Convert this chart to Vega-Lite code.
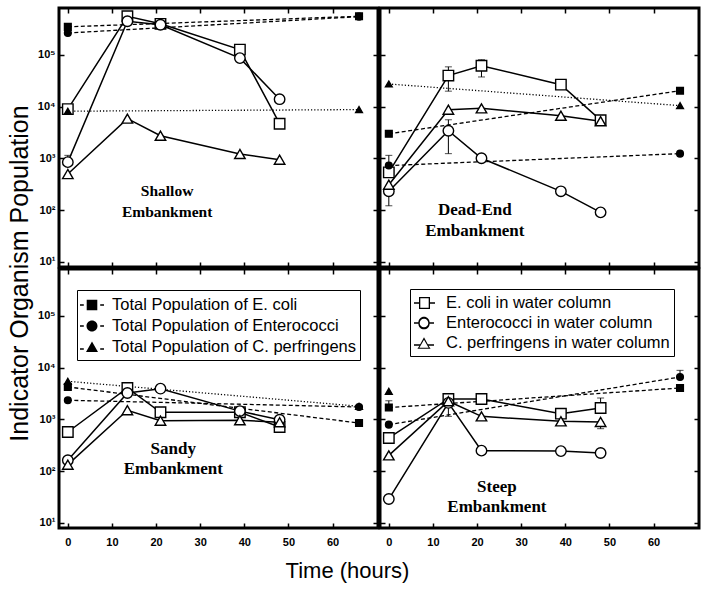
{
  "$schema": "https://vega.github.io/schema/vega-lite/v6.json",
  "background": "white",
  "padding": {"left": 5, "top": 5, "right": 5, "bottom": 5},
  "datasets": {
    "d": [
      {"panel": "Shallow", "organism": "E. coli", "kind": "water", "t": 0, "v": 9000},
      {"panel": "Shallow", "organism": "E. coli", "kind": "water", "t": 13.5, "v": 560000},
      {"panel": "Shallow", "organism": "E. coli", "kind": "water", "t": 21, "v": 400000},
      {"panel": "Shallow", "organism": "E. coli", "kind": "water", "t": 39, "v": 127000},
      {"panel": "Shallow", "organism": "E. coli", "kind": "water", "t": 48, "v": 4700},
      {"panel": "Shallow", "organism": "Enterococci", "kind": "water", "t": 0, "v": 850, "lo": 850, "hi": 1150},
      {"panel": "Shallow", "organism": "Enterococci", "kind": "water", "t": 13.5, "v": 450000},
      {"panel": "Shallow", "organism": "Enterococci", "kind": "water", "t": 21, "v": 385000},
      {"panel": "Shallow", "organism": "Enterococci", "kind": "water", "t": 39, "v": 87000},
      {"panel": "Shallow", "organism": "Enterococci", "kind": "water", "t": 48, "v": 14000},
      {"panel": "Shallow", "organism": "C. perfringens", "kind": "water", "t": 0, "v": 500},
      {"panel": "Shallow", "organism": "C. perfringens", "kind": "water", "t": 13.5, "v": 5900},
      {"panel": "Shallow", "organism": "C. perfringens", "kind": "water", "t": 21, "v": 2750},
      {"panel": "Shallow", "organism": "C. perfringens", "kind": "water", "t": 39, "v": 1220},
      {"panel": "Shallow", "organism": "C. perfringens", "kind": "water", "t": 48, "v": 950},
      {"panel": "Shallow", "organism": "E. coli", "kind": "total", "t": 0, "v": 350000},
      {"panel": "Shallow", "organism": "E. coli", "kind": "total", "t": 66, "v": 560000},
      {"panel": "Shallow", "organism": "Enterococci", "kind": "total", "t": 0, "v": 266000},
      {"panel": "Shallow", "organism": "Enterococci", "kind": "total", "t": 66, "v": 550000},
      {"panel": "Shallow", "organism": "C. perfringens", "kind": "total", "t": 0, "v": 8200},
      {"panel": "Shallow", "organism": "C. perfringens", "kind": "total", "t": 66, "v": 8800},

      {"panel": "Dead-End", "organism": "E. coli", "kind": "water", "t": 0, "v": 540, "lo": 540, "hi": 1150},
      {"panel": "Dead-End", "organism": "E. coli", "kind": "water", "t": 13.5, "v": 40000, "lo": 20000, "hi": 59000},
      {"panel": "Dead-End", "organism": "E. coli", "kind": "water", "t": 21, "v": 62000, "lo": 37600, "hi": 81000},
      {"panel": "Dead-End", "organism": "E. coli", "kind": "water", "t": 39, "v": 26700},
      {"panel": "Dead-End", "organism": "E. coli", "kind": "water", "t": 48, "v": 5500},
      {"panel": "Dead-End", "organism": "Enterococci", "kind": "water", "t": 0, "v": 232, "lo": 122, "hi": 232},
      {"panel": "Dead-End", "organism": "Enterococci", "kind": "water", "t": 13.5, "v": 3440, "lo": 1240, "hi": 5600},
      {"panel": "Dead-End", "organism": "Enterococci", "kind": "water", "t": 21, "v": 1010},
      {"panel": "Dead-End", "organism": "Enterococci", "kind": "water", "t": 39, "v": 232},
      {"panel": "Dead-End", "organism": "Enterococci", "kind": "water", "t": 48, "v": 91},
      {"panel": "Dead-End", "organism": "C. perfringens", "kind": "water", "t": 0, "v": 312},
      {"panel": "Dead-End", "organism": "C. perfringens", "kind": "water", "t": 13.5, "v": 8770},
      {"panel": "Dead-End", "organism": "C. perfringens", "kind": "water", "t": 21, "v": 9300},
      {"panel": "Dead-End", "organism": "C. perfringens", "kind": "water", "t": 39, "v": 6700},
      {"panel": "Dead-End", "organism": "C. perfringens", "kind": "water", "t": 48, "v": 5240},
      {"panel": "Dead-End", "organism": "E. coli", "kind": "total", "t": 0, "v": 3000},
      {"panel": "Dead-End", "organism": "E. coli", "kind": "total", "t": 66, "v": 20400},
      {"panel": "Dead-End", "organism": "Enterococci", "kind": "total", "t": 0, "v": 730},
      {"panel": "Dead-End", "organism": "Enterococci", "kind": "total", "t": 66, "v": 1240},
      {"panel": "Dead-End", "organism": "C. perfringens", "kind": "total", "t": 0, "v": 27500},
      {"panel": "Dead-End", "organism": "C. perfringens", "kind": "total", "t": 66, "v": 10500},

      {"panel": "Sandy", "organism": "E. coli", "kind": "water", "t": 0, "v": 573},
      {"panel": "Sandy", "organism": "E. coli", "kind": "water", "t": 13.5, "v": 4060},
      {"panel": "Sandy", "organism": "E. coli", "kind": "water", "t": 21, "v": 1380},
      {"panel": "Sandy", "organism": "E. coli", "kind": "water", "t": 39, "v": 1380},
      {"panel": "Sandy", "organism": "E. coli", "kind": "water", "t": 48, "v": 716},
      {"panel": "Sandy", "organism": "Enterococci", "kind": "water", "t": 0, "v": 163},
      {"panel": "Sandy", "organism": "Enterococci", "kind": "water", "t": 13.5, "v": 3250},
      {"panel": "Sandy", "organism": "Enterococci", "kind": "water", "t": 21, "v": 3940},
      {"panel": "Sandy", "organism": "Enterococci", "kind": "water", "t": 39, "v": 1450},
      {"panel": "Sandy", "organism": "Enterococci", "kind": "water", "t": 48, "v": 990},
      {"panel": "Sandy", "organism": "C. perfringens", "kind": "water", "t": 0, "v": 134},
      {"panel": "Sandy", "organism": "C. perfringens", "kind": "water", "t": 13.5, "v": 1510},
      {"panel": "Sandy", "organism": "C. perfringens", "kind": "water", "t": 21, "v": 950},
      {"panel": "Sandy", "organism": "C. perfringens", "kind": "water", "t": 39, "v": 966},
      {"panel": "Sandy", "organism": "C. perfringens", "kind": "water", "t": 48, "v": 883},
      {"panel": "Sandy", "organism": "E. coli", "kind": "total", "t": 0, "v": 4250},
      {"panel": "Sandy", "organism": "E. coli", "kind": "total", "t": 66, "v": 855},
      {"panel": "Sandy", "organism": "Enterococci", "kind": "total", "t": 0, "v": 2350},
      {"panel": "Sandy", "organism": "Enterococci", "kind": "total", "t": 66, "v": 1745},
      {"panel": "Sandy", "organism": "C. perfringens", "kind": "total", "t": 0, "v": 5470},
      {"panel": "Sandy", "organism": "C. perfringens", "kind": "total", "t": 66, "v": 1800},

      {"panel": "Steep", "organism": "E. coli", "kind": "water", "t": 0, "v": 440},
      {"panel": "Steep", "organism": "E. coli", "kind": "water", "t": 13.5, "v": 2490},
      {"panel": "Steep", "organism": "E. coli", "kind": "water", "t": 21, "v": 2490},
      {"panel": "Steep", "organism": "E. coli", "kind": "water", "t": 39, "v": 1295},
      {"panel": "Steep", "organism": "E. coli", "kind": "water", "t": 48, "v": 1667, "lo": 1667, "hi": 2600},
      {"panel": "Steep", "organism": "Enterococci", "kind": "water", "t": 0, "v": 29},
      {"panel": "Steep", "organism": "Enterococci", "kind": "water", "t": 13.5, "v": 2090},
      {"panel": "Steep", "organism": "Enterococci", "kind": "water", "t": 21, "v": 250},
      {"panel": "Steep", "organism": "Enterococci", "kind": "water", "t": 39, "v": 245},
      {"panel": "Steep", "organism": "Enterococci", "kind": "water", "t": 48, "v": 225},
      {"panel": "Steep", "organism": "C. perfringens", "kind": "water", "t": 0, "v": 203},
      {"panel": "Steep", "organism": "C. perfringens", "kind": "water", "t": 13.5, "v": 2250, "lo": 1150, "hi": 2700},
      {"panel": "Steep", "organism": "C. perfringens", "kind": "water", "t": 21, "v": 1150},
      {"panel": "Steep", "organism": "C. perfringens", "kind": "water", "t": 39, "v": 922},
      {"panel": "Steep", "organism": "C. perfringens", "kind": "water", "t": 48, "v": 896, "lo": 664, "hi": 896},
      {"panel": "Steep", "organism": "E. coli", "kind": "total", "t": 0, "v": 1700, "lo": 1700, "hi": 2300},
      {"panel": "Steep", "organism": "E. coli", "kind": "total", "t": 66, "v": 4060},
      {"panel": "Steep", "organism": "Enterococci", "kind": "total", "t": 0, "v": 795},
      {"panel": "Steep", "organism": "Enterococci", "kind": "total", "t": 66, "v": 6620, "lo": 6620, "hi": 8900},
      {"panel": "Steep", "organism": "C. perfringens", "kind": "total", "t": 0, "v": 3500}
    ]
  },
  "columns": 2,
  "spacing": 2,
  "bounds": "flush",
  "resolve": {"scale": {"shape": "independent"}, "legend": {"shape": "independent"}},
  "concat": [
    {
      "width": 319, "height": 259,
      "data": {"name": "d"},
      "transform": [{"filter": "datum.panel == 'Shallow'"}],
      "resolve": {"axis": {"x": "independent", "y": "independent"}},
      "layer": [
        {"transform": [{"filter": "datum.kind == 'water'"}],
         "mark": {"type": "line", "color": "black", "strokeWidth": 1.5},
         "encoding": {
           "x": {"field": "t", "type": "quantitative", "scale": {"domain": [-2, 70.3], "nice": false, "zero": false}, "axis": {"orient": "bottom", "values": [0,10,20,30,40,50,60], "labels": false, "title": null}},
           "y": {"field": "v", "type": "quantitative", "scale": {"type": "log", "domain": [8, 809000], "nice": false}, "axis": {"orient": "left", "values": [10,100,1000,10000,100000], "labelPadding": 9, "labelExpr": "datum.value == 10 ? '10¹' : datum.value == 100 ? '10²' : datum.value == 1000 ? '10³' : datum.value == 10000 ? '10⁴' : '10⁵'", "title": "Indicator Organism Population", "titleY": 265, "titleFontSize": 25, "titlePadding": 5}},
           "detail": {"field": "organism"}}},
        {"transform": [{"filter": "datum.kind == 'total'"}],
         "mark": {"type": "line", "color": "black", "strokeWidth": 1.3},
         "encoding": {
           "x": {"field": "t", "type": "quantitative", "axis": {"orient": "top", "values": [0,10,20,30,40,50,60], "labels": false, "title": null}},
           "y": {"field": "v", "type": "quantitative", "axis": {"orient": "right", "values": [10,100,1000,10000,100000], "labels": false, "title": null}},
           "strokeDash": {"field": "organism", "type": "nominal", "scale": {"domain": ["E. coli", "Enterococci", "C. perfringens"], "range": [[4, 2.5], [4, 2.5], [1.2, 2]]}, "legend": null}}},
        {"transform": [{"filter": "isValid(datum.hi)"}],
         "mark": {"type": "rule", "color": "black", "strokeWidth": 1},
         "encoding": {"x": {"field": "t", "type": "quantitative", "axis": null}, "y": {"field": "lo", "type": "quantitative", "axis": null}, "y2": {"field": "hi"}}},
        {"transform": [{"filter": "isValid(datum.hi)"}],
         "mark": {"type": "tick", "orient": "horizontal", "color": "black", "size": 7, "thickness": 1},
         "encoding": {"x": {"field": "t", "type": "quantitative", "axis": null}, "y": {"field": "hi", "type": "quantitative", "axis": null}}},
        {"transform": [{"filter": "datum.organism == 'E. coli'"}],
         "mark": {"type": "point", "shape": "square", "filled": true, "stroke": "black", "strokeWidth": 1.4, "opacity": 1},
         "encoding": {"x": {"field": "t", "type": "quantitative", "axis": null}, "y": {"field": "v", "type": "quantitative", "axis": null},
           "fill": {"field": "kind", "type": "nominal", "scale": {"domain": ["water", "total"], "range": ["white", "black"]}, "legend": null},
           "size": {"field": "kind", "type": "ordinal", "scale": {"domain": ["water", "total"], "range": [110, 45]}, "legend": null}}},
        {"transform": [{"filter": "datum.organism == 'Enterococci'"}],
         "mark": {"type": "point", "shape": "circle", "filled": true, "stroke": "black", "strokeWidth": 1.4, "opacity": 1},
         "encoding": {"x": {"field": "t", "type": "quantitative", "axis": null}, "y": {"field": "v", "type": "quantitative", "axis": null},
           "fill": {"field": "kind", "type": "nominal", "scale": {"domain": ["water", "total"], "range": ["white", "black"]}, "legend": null},
           "size": {"field": "kind", "type": "ordinal", "scale": {"domain": ["water", "total"], "range": [110, 45]}, "legend": null}}},
        {"transform": [{"filter": "datum.organism == 'C. perfringens'"}],
         "mark": {"type": "point", "shape": "triangle-up", "filled": true, "stroke": "black", "strokeWidth": 1.4, "opacity": 1},
         "encoding": {"x": {"field": "t", "type": "quantitative", "axis": null}, "y": {"field": "v", "type": "quantitative", "axis": null},
           "fill": {"field": "kind", "type": "nominal", "scale": {"domain": ["water", "total"], "range": ["white", "black"]}, "legend": null},
           "size": {"field": "kind", "type": "ordinal", "scale": {"domain": ["water", "total"], "range": [120, 50]}, "legend": null}}},
        {"data": {"values": [{"label": "Shallow Embankment"}]},
         "mark": {"type": "text", "font": "Liberation Serif", "fontWeight": "bold", "fontSize": 15.5, "lineHeight": 21, "lineBreak": " ", "align": "center", "baseline": "middle", "color": "black"},
         "encoding": {"text": {"field": "label"}, "x": {"datum": 22.5, "type": "quantitative", "axis": null}, "y": {"datum": 235, "type": "quantitative", "axis": null}}}
      ]
    },
    {
      "width": 319, "height": 259,
      "data": {"name": "d"},
      "transform": [{"filter": "datum.panel == 'Dead-End'"}],
      "resolve": {"axis": {"x": "independent", "y": "independent"}},
      "layer": [
        {"transform": [{"filter": "datum.kind == 'water'"}],
         "mark": {"type": "line", "color": "black", "strokeWidth": 1.5},
         "encoding": {
           "x": {"field": "t", "type": "quantitative", "scale": {"domain": [-2, 70.3], "nice": false, "zero": false}, "axis": {"orient": "bottom", "values": [0,10,20,30,40,50,60], "labels": false, "title": null}},
           "y": {"field": "v", "type": "quantitative", "scale": {"type": "log", "domain": [8, 809000], "nice": false}, "axis": {"orient": "left", "values": [10,100,1000,10000,100000], "labels": false, "title": null}},
           "detail": {"field": "organism"}}},
        {"transform": [{"filter": "datum.kind == 'total'"}],
         "mark": {"type": "line", "color": "black", "strokeWidth": 1.3},
         "encoding": {
           "x": {"field": "t", "type": "quantitative", "axis": {"orient": "top", "values": [0,10,20,30,40,50,60], "labels": false, "title": null}},
           "y": {"field": "v", "type": "quantitative", "axis": {"orient": "right", "values": [10,100,1000,10000,100000], "labels": false, "title": null}},
           "strokeDash": {"field": "organism", "type": "nominal", "scale": {"domain": ["E. coli", "Enterococci", "C. perfringens"], "range": [[4, 2.5], [4, 2.5], [1.2, 2]]}, "legend": null}}},
        {"transform": [{"filter": "isValid(datum.hi)"}],
         "mark": {"type": "rule", "color": "black", "strokeWidth": 1},
         "encoding": {"x": {"field": "t", "type": "quantitative", "axis": null}, "y": {"field": "lo", "type": "quantitative", "axis": null}, "y2": {"field": "hi"}}},
        {"transform": [{"filter": "isValid(datum.hi)"}],
         "mark": {"type": "tick", "orient": "horizontal", "color": "black", "size": 7, "thickness": 1},
         "encoding": {"x": {"field": "t", "type": "quantitative", "axis": null}, "y": {"field": "hi", "type": "quantitative", "axis": null}}},
        {"transform": [{"filter": "isValid(datum.hi)"}],
         "mark": {"type": "tick", "orient": "horizontal", "color": "black", "size": 7, "thickness": 1},
         "encoding": {"x": {"field": "t", "type": "quantitative", "axis": null}, "y": {"field": "lo", "type": "quantitative", "axis": null}}},
        {"transform": [{"filter": "datum.organism == 'E. coli'"}],
         "mark": {"type": "point", "shape": "square", "filled": true, "stroke": "black", "strokeWidth": 1.4, "opacity": 1},
         "encoding": {"x": {"field": "t", "type": "quantitative", "axis": null}, "y": {"field": "v", "type": "quantitative", "axis": null},
           "fill": {"field": "kind", "type": "nominal", "scale": {"domain": ["water", "total"], "range": ["white", "black"]}, "legend": null},
           "size": {"field": "kind", "type": "ordinal", "scale": {"domain": ["water", "total"], "range": [110, 45]}, "legend": null}}},
        {"transform": [{"filter": "datum.organism == 'Enterococci'"}],
         "mark": {"type": "point", "shape": "circle", "filled": true, "stroke": "black", "strokeWidth": 1.4, "opacity": 1},
         "encoding": {"x": {"field": "t", "type": "quantitative", "axis": null}, "y": {"field": "v", "type": "quantitative", "axis": null},
           "fill": {"field": "kind", "type": "nominal", "scale": {"domain": ["water", "total"], "range": ["white", "black"]}, "legend": null},
           "size": {"field": "kind", "type": "ordinal", "scale": {"domain": ["water", "total"], "range": [110, 45]}, "legend": null}}},
        {"transform": [{"filter": "datum.organism == 'C. perfringens'"}],
         "mark": {"type": "point", "shape": "triangle-up", "filled": true, "stroke": "black", "strokeWidth": 1.4, "opacity": 1},
         "encoding": {"x": {"field": "t", "type": "quantitative", "axis": null}, "y": {"field": "v", "type": "quantitative", "axis": null},
           "fill": {"field": "kind", "type": "nominal", "scale": {"domain": ["water", "total"], "range": ["white", "black"]}, "legend": null},
           "size": {"field": "kind", "type": "ordinal", "scale": {"domain": ["water", "total"], "range": [120, 50]}, "legend": null}}},
        {"data": {"values": [{"label": "Dead-End Embankment"}]},
         "mark": {"type": "text", "font": "Liberation Serif", "fontWeight": "bold", "fontSize": 17, "lineHeight": 21, "lineBreak": " ", "align": "center", "baseline": "middle", "color": "black"},
         "encoding": {"text": {"field": "label"}, "x": {"datum": 19.5, "type": "quantitative", "axis": null}, "y": {"datum": 102, "type": "quantitative", "axis": null}}}
      ]
    },
    {
      "width": 319, "height": 259,
      "data": {"name": "d"},
      "transform": [{"filter": "datum.panel == 'Sandy'"}],
      "resolve": {"axis": {"x": "independent", "y": "independent"}},
      "layer": [
        {"transform": [{"filter": "datum.kind == 'water'"}],
         "mark": {"type": "line", "color": "black", "strokeWidth": 1.5},
         "encoding": {
           "x": {"field": "t", "type": "quantitative", "scale": {"domain": [-2, 70.3], "nice": false, "zero": false}, "axis": {"orient": "bottom", "values": [0,10,20,30,40,50,60], "labelPadding": 13, "title": "Time (hours)", "titleX": 288, "titleFontSize": 22, "titlePadding": 13}},
           "y": {"field": "v", "type": "quantitative", "scale": {"type": "log", "domain": [8, 809000], "nice": false}, "axis": {"orient": "left", "values": [10,100,1000,10000,100000], "labelPadding": 9, "labelExpr": "datum.value == 10 ? '10¹' : datum.value == 100 ? '10²' : datum.value == 1000 ? '10³' : datum.value == 10000 ? '10⁴' : '10⁵'", "title": null}},
           "detail": {"field": "organism"}}},
        {"transform": [{"filter": "datum.kind == 'total'"}],
         "mark": {"type": "line", "color": "black", "strokeWidth": 1.3},
         "encoding": {
           "x": {"field": "t", "type": "quantitative", "axis": {"orient": "top", "values": [0,10,20,30,40,50,60], "labels": false, "title": null}},
           "y": {"field": "v", "type": "quantitative", "axis": {"orient": "right", "values": [10,100,1000,10000,100000], "labels": false, "title": null}},
           "strokeDash": {"field": "organism", "type": "nominal", "scale": {"domain": ["E. coli", "Enterococci", "C. perfringens"], "range": [[4, 2.5], [4, 2.5], [1.2, 2]]}, "legend": null}}},
        {"transform": [{"filter": "datum.organism == 'E. coli'"}],
         "mark": {"type": "point", "shape": "square", "filled": true, "stroke": "black", "strokeWidth": 1.4, "opacity": 1},
         "encoding": {"x": {"field": "t", "type": "quantitative", "axis": null}, "y": {"field": "v", "type": "quantitative", "axis": null},
           "fill": {"field": "kind", "type": "nominal", "scale": {"domain": ["water", "total"], "range": ["white", "black"]}, "legend": null},
           "size": {"field": "kind", "type": "ordinal", "scale": {"domain": ["water", "total"], "range": [110, 45]}, "legend": null}}},
        {"transform": [{"filter": "datum.organism == 'Enterococci'"}],
         "mark": {"type": "point", "shape": "circle", "filled": true, "stroke": "black", "strokeWidth": 1.4, "opacity": 1},
         "encoding": {"x": {"field": "t", "type": "quantitative", "axis": null}, "y": {"field": "v", "type": "quantitative", "axis": null},
           "fill": {"field": "kind", "type": "nominal", "scale": {"domain": ["water", "total"], "range": ["white", "black"]}, "legend": null},
           "size": {"field": "kind", "type": "ordinal", "scale": {"domain": ["water", "total"], "range": [110, 45]}, "legend": null}}},
        {"transform": [{"filter": "datum.organism == 'C. perfringens'"}],
         "mark": {"type": "point", "shape": "triangle-up", "filled": true, "stroke": "black", "strokeWidth": 1.4, "opacity": 1},
         "encoding": {"x": {"field": "t", "type": "quantitative", "axis": null}, "y": {"field": "v", "type": "quantitative", "axis": null},
           "fill": {"field": "kind", "type": "nominal", "scale": {"domain": ["water", "total"], "range": ["white", "black"]}, "legend": null},
           "size": {"field": "kind", "type": "ordinal", "scale": {"domain": ["water", "total"], "range": [120, 50]}, "legend": null}}},
        {"data": {"values": [{"label": "Sandy Embankment"}]},
         "mark": {"type": "text", "font": "Liberation Serif", "fontWeight": "bold", "fontSize": 17, "lineHeight": 20.5, "lineBreak": " ", "align": "center", "baseline": "middle", "color": "black"},
         "encoding": {"text": {"field": "label"}, "x": {"datum": 23.9, "type": "quantitative", "axis": null}, "y": {"datum": 270, "type": "quantitative", "axis": null}}},
        {"transform": [{"filter": "false"}],
         "mark": {"type": "point", "filled": true, "fill": "black", "stroke": "black", "strokeWidth": 1.3, "opacity": 1},
         "encoding": {"shape": {"field": "series", "type": "nominal",
           "scale": {"domain": ["Total Population of E. coli", "Total Population of Enterococci", "Total Population of C. perfringens"],
                     "range": ["M-1.2,-0.07L-0.82,-0.07L-0.82,0.07L-1.2,0.07ZM0.82,-0.07L1.2,-0.07L1.2,0.07L0.82,0.07ZM-0.53,-0.53L0.53,-0.53L0.53,0.53L-0.53,0.53Z", "M-1.2,-0.07L-0.82,-0.07L-0.82,0.07L-1.2,0.07ZM0.82,-0.07L1.2,-0.07L1.2,0.07L0.82,0.07ZM-0.55,0A0.55,0.55,0,1,0,0.55,0A0.55,0.55,0,1,0,-0.55,0Z", "M-1.2,0.13L-0.82,0.13L-0.82,0.27L-1.2,0.27ZM0.82,0.13L1.2,0.13L1.2,0.27L0.82,0.27ZM0,-0.55L0.6,0.5L-0.6,0.5Z"]},
           "legend": {"orient": "none", "legendX": 18, "legendY": 21, "title": null, "direction": "vertical", "symbolSize": 400, "symbolStrokeWidth": 1.3, "symbolFillColor": "black", "symbolStrokeColor": "black", "symbolOpacity": 1, "labelFont": "Liberation Sans", "labelFontSize": 16.5, "labelColor": "black", "labelOffset": 9, "labelLimit": 400, "padding": 4, "rowPadding": 1, "strokeColor": "black", "fillColor": "white"}}}}
      ]
    },
    {
      "width": 319, "height": 259,
      "data": {"name": "d"},
      "transform": [{"filter": "datum.panel == 'Steep'"}],
      "resolve": {"axis": {"x": "independent", "y": "independent"}},
      "layer": [
        {"transform": [{"filter": "datum.kind == 'water'"}],
         "mark": {"type": "line", "color": "black", "strokeWidth": 1.5},
         "encoding": {
           "x": {"field": "t", "type": "quantitative", "scale": {"domain": [-2, 70.3], "nice": false, "zero": false}, "axis": {"orient": "bottom", "values": [0,10,20,30,40,50,60], "labelPadding": 13, "title": null}},
           "y": {"field": "v", "type": "quantitative", "scale": {"type": "log", "domain": [8, 809000], "nice": false}, "axis": {"orient": "left", "values": [10,100,1000,10000,100000], "labels": false, "title": null}},
           "detail": {"field": "organism"}}},
        {"transform": [{"filter": "datum.kind == 'total'"}],
         "mark": {"type": "line", "color": "black", "strokeWidth": 1.3},
         "encoding": {
           "x": {"field": "t", "type": "quantitative", "axis": {"orient": "top", "values": [0,10,20,30,40,50,60], "labels": false, "title": null}},
           "y": {"field": "v", "type": "quantitative", "axis": {"orient": "right", "values": [10,100,1000,10000,100000], "labels": false, "title": null}},
           "strokeDash": {"field": "organism", "type": "nominal", "scale": {"domain": ["E. coli", "Enterococci", "C. perfringens"], "range": [[4, 2.5], [4, 2.5], [1.2, 2]]}, "legend": null}}},
        {"transform": [{"filter": "isValid(datum.hi)"}],
         "mark": {"type": "rule", "color": "black", "strokeWidth": 1},
         "encoding": {"x": {"field": "t", "type": "quantitative", "axis": null}, "y": {"field": "lo", "type": "quantitative", "axis": null}, "y2": {"field": "hi"}}},
        {"transform": [{"filter": "isValid(datum.hi)"}],
         "mark": {"type": "tick", "orient": "horizontal", "color": "black", "size": 7, "thickness": 1},
         "encoding": {"x": {"field": "t", "type": "quantitative", "axis": null}, "y": {"field": "hi", "type": "quantitative", "axis": null}}},
        {"transform": [{"filter": "isValid(datum.hi)"}],
         "mark": {"type": "tick", "orient": "horizontal", "color": "black", "size": 7, "thickness": 1},
         "encoding": {"x": {"field": "t", "type": "quantitative", "axis": null}, "y": {"field": "lo", "type": "quantitative", "axis": null}}},
        {"transform": [{"filter": "datum.organism == 'E. coli'"}],
         "mark": {"type": "point", "shape": "square", "filled": true, "stroke": "black", "strokeWidth": 1.4, "opacity": 1},
         "encoding": {"x": {"field": "t", "type": "quantitative", "axis": null}, "y": {"field": "v", "type": "quantitative", "axis": null},
           "fill": {"field": "kind", "type": "nominal", "scale": {"domain": ["water", "total"], "range": ["white", "black"]}, "legend": null},
           "size": {"field": "kind", "type": "ordinal", "scale": {"domain": ["water", "total"], "range": [110, 45]}, "legend": null}}},
        {"transform": [{"filter": "datum.organism == 'Enterococci'"}],
         "mark": {"type": "point", "shape": "circle", "filled": true, "stroke": "black", "strokeWidth": 1.4, "opacity": 1},
         "encoding": {"x": {"field": "t", "type": "quantitative", "axis": null}, "y": {"field": "v", "type": "quantitative", "axis": null},
           "fill": {"field": "kind", "type": "nominal", "scale": {"domain": ["water", "total"], "range": ["white", "black"]}, "legend": null},
           "size": {"field": "kind", "type": "ordinal", "scale": {"domain": ["water", "total"], "range": [110, 45]}, "legend": null}}},
        {"transform": [{"filter": "datum.organism == 'C. perfringens'"}],
         "mark": {"type": "point", "shape": "triangle-up", "filled": true, "stroke": "black", "strokeWidth": 1.4, "opacity": 1},
         "encoding": {"x": {"field": "t", "type": "quantitative", "axis": null}, "y": {"field": "v", "type": "quantitative", "axis": null},
           "fill": {"field": "kind", "type": "nominal", "scale": {"domain": ["water", "total"], "range": ["white", "black"]}, "legend": null},
           "size": {"field": "kind", "type": "ordinal", "scale": {"domain": ["water", "total"], "range": [120, 50]}, "legend": null}}},
        {"data": {"values": [{"label": "Steep Embankment"}]},
         "mark": {"type": "text", "font": "Liberation Serif", "fontWeight": "bold", "fontSize": 17, "lineHeight": 20.5, "lineBreak": " ", "align": "center", "baseline": "middle", "color": "black"},
         "encoding": {"text": {"field": "label"}, "x": {"datum": 24.5, "type": "quantitative", "axis": null}, "y": {"datum": 50, "type": "quantitative", "axis": null}}},
        {"transform": [{"filter": "false"}],
         "mark": {"type": "point", "filled": true, "fill": "black", "stroke": "black", "strokeWidth": 1.3, "opacity": 1},
         "encoding": {"shape": {"field": "series", "type": "nominal",
           "scale": {"domain": ["E. coli in water column", "Enterococci in water column", "C. perfringens in water column"],
                     "range": ["M-1,-0.07L-0.5,-0.07L-0.5,-0.6L0.6,-0.6L0.6,-0.07L1.1,-0.07L1.1,0.07L0.6,0.07L0.6,0.6L-0.5,0.6L-0.5,0.07L-1,0.07ZM-0.37,-0.47L-0.37,0.47L0.47,0.47L0.47,-0.47Z", "M-1,-0.07L-0.56,-0.07A0.56,0.56,0,0,1,0.56,-0.07L1,-0.07L1,0.07L0.56,0.07A0.56,0.56,0,0,1,-0.56,0.07L-1,0.07ZM-0.43,0A0.43,0.43,0,1,0,0.43,0A0.43,0.43,0,1,0,-0.43,0Z", "M-1,0.13L-0.38,0.13L0,-0.58L0.38,0.13L1,0.13L1,0.27L0.45,0.27L0.66,0.58L-0.66,0.58L-0.45,0.27L-1,0.27ZM0,-0.33L-0.46,0.47L0.46,0.47Z"]},
           "legend": {"orient": "none", "legendX": 30, "legendY": 20, "title": null, "direction": "vertical", "symbolSize": 400, "symbolStrokeWidth": 0, "symbolFillColor": "black", "symbolStrokeColor": "black", "symbolOpacity": 1, "labelFont": "Liberation Sans", "labelFontSize": 16.5, "labelColor": "black", "labelOffset": 12, "labelLimit": 400, "padding": 4, "rowPadding": 1, "strokeColor": "black", "fillColor": "white"}}}}
      ]
    }
  ],
  "config": {
    "view": {"stroke": "black", "strokeWidth": 3},
    "axis": {
      "domain": false, "grid": false, "ticks": true, "tickColor": "black", "tickWidth": 1.5, "tickSize": -5,
      "labelFont": "Liberation Sans Narrow, Liberation Sans, Arial, sans-serif", "labelFontWeight": "bold", "labelFontSize": 11, "labelColor": "black",
      "titleFont": "Liberation Sans", "titleFontWeight": "normal", "titleColor": "black"
    }
  }
}
